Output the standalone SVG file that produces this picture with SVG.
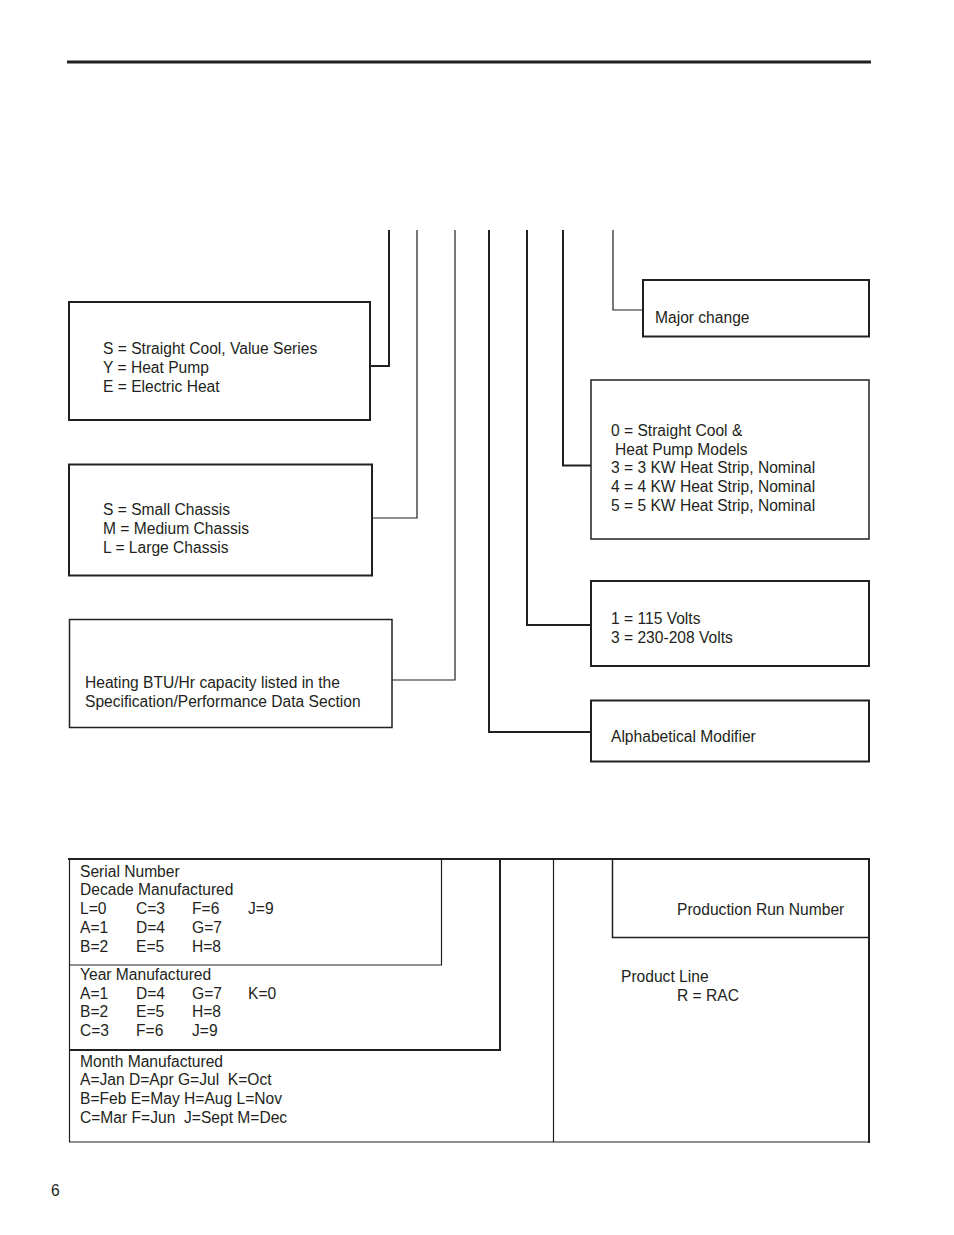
<svg xmlns="http://www.w3.org/2000/svg" width="954" height="1235" viewBox="0 0 954 1235">
<style>
text{font-family:"Liberation Sans",Arial,sans-serif;font-size:15.6px;fill:#231f20}
.b2{fill:none;stroke:#231f20;stroke-width:2}
.b15{fill:none;stroke:#231f20;stroke-width:1.5}
.l2{fill:none;stroke:#231f20;stroke-width:2}
.l1{fill:none;stroke:#231f20;stroke-width:1.2}
</style>
<rect width="954" height="1235" fill="#ffffff"/>
<line x1="67" y1="62" x2="871" y2="62" stroke="#231f20" stroke-width="3"/>
<g id="connectors">
<polyline class="l2" points="389,230 389,366 370,366"/>
<polyline class="l1" points="417,230 417,518 372,518"/>
<polyline class="l1" points="455,230 455,680 392,680"/>
<polyline class="l2" points="489,230 489,732 591,732"/>
<polyline class="l2" points="527,230 527,625 591,625"/>
<polyline class="l2" points="563,230 563,465.5 591,465.5"/>
<polyline class="l1" points="613,230 613,310 643,310"/>
</g>
<g id="type">
<rect class="b2" x="69" y="302" width="301" height="118"/>
<text x="103" y="354">S = Straight Cool, Value Series</text>
<text x="103" y="373">Y = Heat Pump</text>
<text x="103" y="392">E = Electric Heat</text>
</g>
<g id="chassis">
<rect class="b2" x="69" y="464.5" width="303" height="111"/>
<text x="103" y="515">S = Small Chassis</text>
<text x="103" y="534">M = Medium Chassis</text>
<text x="103" y="553">L = Large Chassis</text>
</g>
<g id="btu">
<rect class="b15" x="69.5" y="619.5" width="322.5" height="108"/>
<text x="85" y="688">Heating BTU/Hr capacity listed in the</text>
<text x="85" y="707">Specification/Performance Data Section</text>
</g>
<g id="major">
<rect class="b2" x="643" y="280" width="226" height="56.5"/>
<text x="655" y="323">Major change</text>
</g>
<g id="heatstrip">
<rect class="b15" x="591" y="380" width="278" height="159"/>
<text x="611" y="436">0 = Straight Cool &amp;</text>
<text x="615" y="455">Heat Pump Models</text>
<text x="611" y="473">3 = 3 KW Heat Strip, Nominal</text>
<text x="611" y="492">4 = 4 KW Heat Strip, Nominal</text>
<text x="611" y="511">5 = 5 KW Heat Strip, Nominal</text>
</g>
<g id="volts">
<rect class="b2" x="591" y="581" width="278" height="85"/>
<text x="611" y="624">1 = 115 Volts</text>
<text x="611" y="643">3 = 230-208 Volts</text>
</g>
<g id="alpha">
<rect class="b2" x="591" y="700.5" width="278" height="61"/>
<text x="611" y="742">Alphabetical Modifier</text>
</g>
<g id="serial">
<line x1="68" y1="859" x2="870" y2="859" stroke="#231f20" stroke-width="2"/>
<line x1="69.5" y1="859" x2="69.5" y2="1142" stroke="#231f20" stroke-width="1.2"/>
<line x1="69" y1="1142" x2="870" y2="1142" stroke="#231f20" stroke-width="1.2"/>
<line x1="869" y1="858" x2="869" y2="1143" stroke="#231f20" stroke-width="2"/>
<polyline class="l1" points="441.5,859 441.5,965 69,965"/>
<polyline class="l2" points="500,858 500,1050 69,1050"/>
<line x1="553.5" y1="859" x2="553.5" y2="1142" stroke="#231f20" stroke-width="1.2"/>
<polyline class="b15" points="612.5,859 612.5,937.5 869,937.5"/>
</g>
<g id="decade">
<text x="80" y="877">Serial Number</text>
<text x="80" y="895">Decade Manufactured</text>
<text x="80" y="914">L=0</text><text x="136" y="914">C=3</text><text x="192" y="914">F=6</text><text x="248" y="914">J=9</text>
<text x="80" y="933">A=1</text><text x="136" y="933">D=4</text><text x="192" y="933">G=7</text>
<text x="80" y="952">B=2</text><text x="136" y="952">E=5</text><text x="192" y="952">H=8</text>
</g>
<g id="year">
<text x="80" y="980">Year Manufactured</text>
<text x="80" y="999">A=1</text><text x="136" y="999">D=4</text><text x="192" y="999">G=7</text><text x="248" y="999">K=0</text>
<text x="80" y="1017">B=2</text><text x="136" y="1017">E=5</text><text x="192" y="1017">H=8</text>
<text x="80" y="1036">C=3</text><text x="136" y="1036">F=6</text><text x="192" y="1036">J=9</text>
</g>
<g id="month">
<text x="80" y="1067">Month Manufactured</text>
<text x="80" y="1085" xml:space="preserve">A=Jan D=Apr G=Jul  K=Oct</text>
<text x="80" y="1104">B=Feb E=May H=Aug L=Nov</text>
<text x="80" y="1123" xml:space="preserve">C=Mar F=Jun  J=Sept M=Dec</text>
</g>
<g id="production">
<text x="677" y="915">Production Run Number</text>
</g>
<g id="productline">
<text x="621" y="982">Product Line</text>
<text x="677" y="1001">R = RAC</text>
</g>
<text x="51" y="1196">6</text>
</svg>
